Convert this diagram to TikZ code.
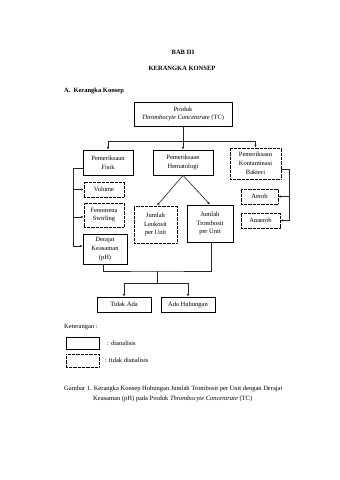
\documentclass[tikz,border=0pt]{standalone}
\usepackage{fontspec}
\setmainfont{Liberation Serif}
\usetikzlibrary{arrows.meta}
\tikzset{
  txt/.style={font=\fontsize{6.5}{8.6}\selectfont, inner sep=0pt},
  box/.style={draw=black, line width=0.75pt, inner sep=0pt, align=center,
              font=\fontsize{6.5}{8.8}\selectfont},
  dotbox/.style={box, dash pattern=on 0.55pt off 0.75pt, line width=0.8pt},
  conn/.style={draw=black!85, line width=0.6pt},
  arr/.style={conn, -{Latex[length=2.8pt,width=2.6pt]}},
}
\begin{document}
\begin{tikzpicture}[x=1pt,y=-1pt]
\useasboundingbox[fill=white] (0,0) rectangle (340,480);

% titles
\node[txt, font=\fontsize{6.5}{8}\selectfont\bfseries] (bab) at (183,52) {BAB III};
\node[txt, font=\fontsize{6.5}{8}\selectfont\bfseries] (judul) at (182,68) {KERANGKA KONSEP};
\node[txt, font=\fontsize{6.5}{8}\selectfont\bfseries, anchor=west] (sub) at (64,91) {A.\hspace{3pt}Kerangka Konsep};

% boxes
\node[box, minimum width=98pt, minimum height=24pt] (produk) at (183,114) {Produk\\\textit{Thrombocyte Concentrate} (TC)};
\node[box, minimum width=50pt, minimum height=25pt] (fisik) at (108,162.5) {Pemeriksaan\\Fisik};
\node[box, minimum width=60pt, minimum height=25pt] (hema) at (183,162.5) {Pemeriksaan\\Hematologi};
\node[dotbox, minimum width=51pt, minimum height=31pt] (bakteri) at (255.5,163.5) {Pemeriksaan\\Kontaminasi\\Bakteri};
\node[dotbox, minimum width=40pt, minimum height=15pt] (volume) at (104,189.5) {Volume};
\node[dotbox, minimum width=40pt, minimum height=24pt] (fenomena) at (104,215) {Fenomena\\Swirling};
\node[box, minimum width=44pt, minimum height=30pt] (derajat) at (105,249) {Derajat\\Keasaman\\(pH)};
\node[dotbox, minimum width=43pt, minimum height=37pt] (leukosit) at (155.5,224.5) {Jumlah\\Leukosit\\per Unit};
\node[box, minimum width=46pt, minimum height=37pt] (trombosit) at (210,223.5) {Jumlah\\Trombosit\\per Unit};
\node[dotbox, minimum width=37pt, minimum height=15pt] (aerob) at (259.5,196.5) {Aerob};
\node[dotbox, minimum width=39pt, minimum height=15pt] (anaerob) at (260.5,220.5) {Anaerob};
\node[box, minimum width=54pt, minimum height=15pt] (tidak) at (124,304.5) {Tidak Ada};
\node[box, minimum width=54pt, minimum height=15pt] (ada) at (188,304.5) {Ada Hubungan};

% junctions
\coordinate (j1) at (183,141);
\coordinate (lv) at (73,168);
\coordinate (rv) at (289,169);
\coordinate (hb) at (157,271);
\coordinate (hc) at (157,283);
\coordinate (fenin) at ([yshift=-2pt]fenomena.west);
\coordinate (derin) at ([yshift=3pt]derajat.west);

% connectors from Produk
\draw[conn] (produk.south) -- (j1);
\draw[arr] (j1) -| (fisik.north);
\draw[arr] (j1) -- (hema.north);
\draw[arr] (j1) -| (bakteri.north);

% Fisik branch
\draw[conn] ([yshift=-5.5pt]fisik.west) -- (lv);
\draw[arr] (lv) |- (derin);
\draw[arr] (lv |- volume.west) -- (volume.west);
\draw[arr] (lv |- fenin) -- (fenin);

% Hematologi branch
\draw[arr] (hema.south) -- ([xshift=1.5pt]leukosit.north);
\draw[arr] (hema.south) -- (trombosit.north);

% Bakteri branch
\draw[conn] ([yshift=-5.5pt]bakteri.east) -- (rv);
\draw[arr] (rv) |- (anaerob.east);
\draw[arr] (rv |- aerob.east) -- (aerob.east);

% results
\draw[conn] ([xshift=-2pt]derajat.south) |- (hb) -| ([xshift=1.5pt]trombosit.south);
\draw[conn] (hb) -- (hc);
\draw[conn] (tidak.north |- hc) -- (ada.north |- hc);
\draw[arr] (tidak.north |- hc) -- (tidak.north);
\draw[arr] (ada.north |- hc) -- (ada.north);

% legend
\node[txt, anchor=west] (ket) at (64,327) {Keterangan :};
\node[box, minimum width=33pt, minimum height=12pt] (lg1) at (82.5,343) {};
\node[dotbox, minimum width=33pt, minimum height=13pt] (lg2) at (82.5,360.5) {};
\node[txt, anchor=west] (lt1) at (107,343) {: dianalisis};
\node[txt, anchor=west] (lt2) at (105,360) {: tidak dianalisis};

% caption
\node[txt, anchor=west] (cap1) at (64,389) {Gambar 1. Kerangka Konsep Hubungan Jumlah Trombosit per Unit dengan Derajat};
\node[txt, anchor=west] (cap2) at (93,399) {Keasaman (pH) pada Produk \textit{Thrombocyte Concentrate} (TC)};
\end{tikzpicture}
\end{document}
